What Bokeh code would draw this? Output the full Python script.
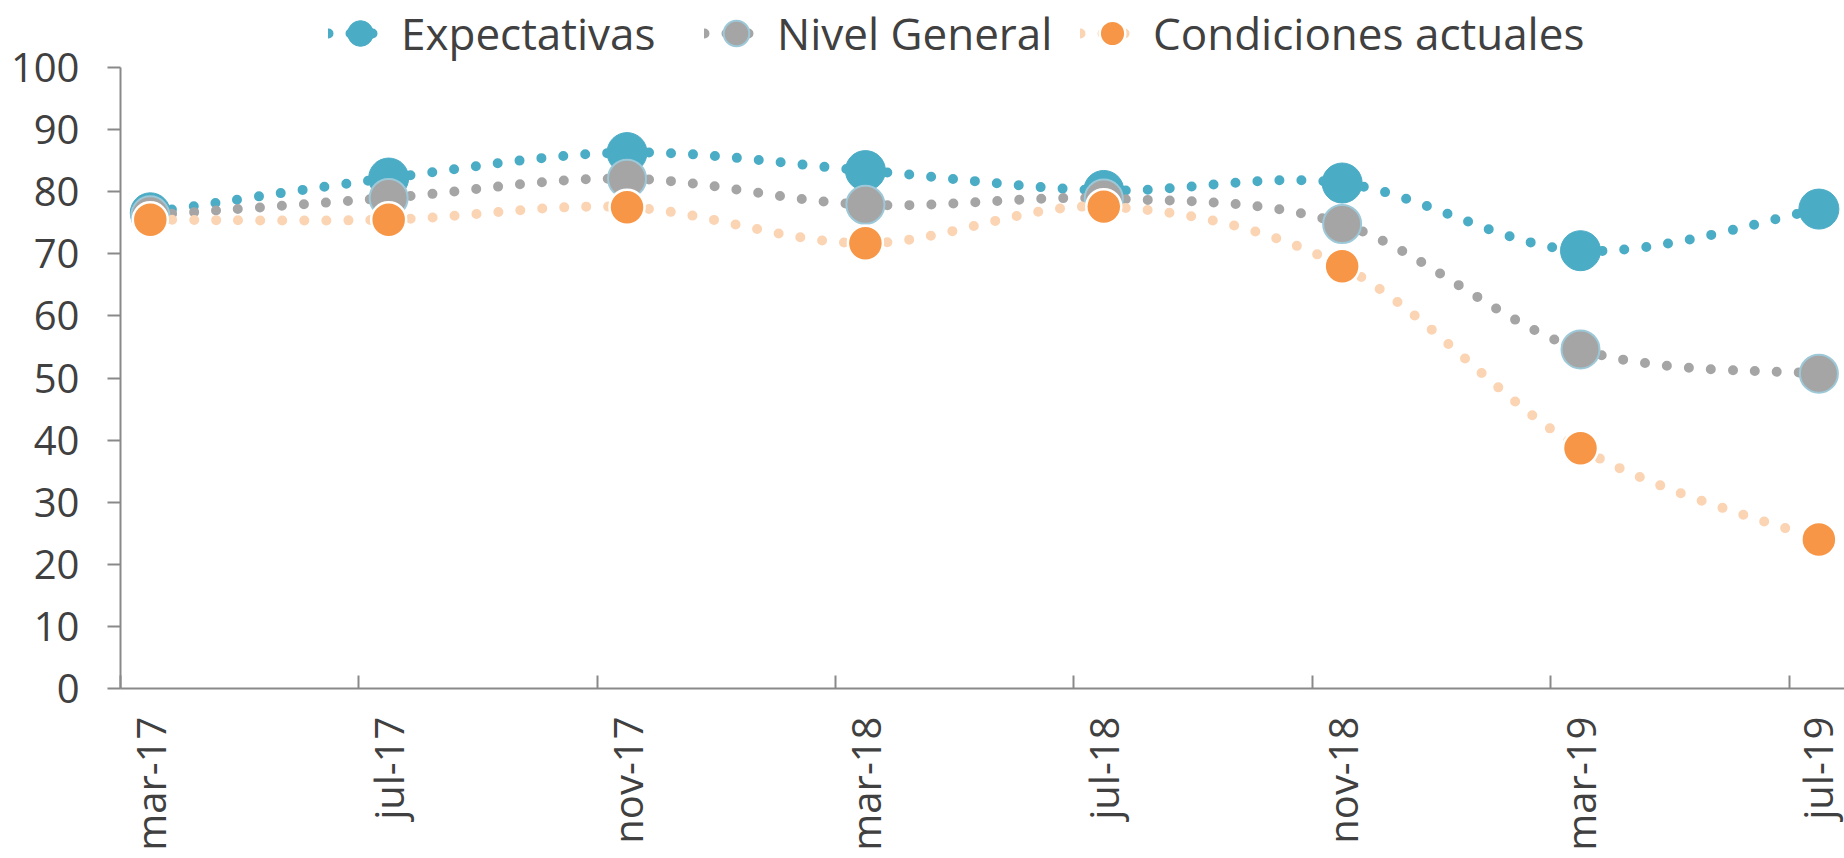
import numpy as np
from bokeh.plotting import figure
from bokeh.models import Range1d, FixedTicker, Legend, LegendItem, ColumnDataSource
from bokeh.embed import file_html
from bokeh.resources import INLINE

# ---- data ----
categories = ["mar-17", "jul-17", "nov-17", "mar-18", "jul-18", "nov-18", "mar-19", "jul-19"]
expectativas = [76.6, 82.2, 86.3, 83.4, 80.2, 81.4, 70.5, 77.2]
nivel_general = [76.2, 79.0, 82.1, 77.9, 78.9, 74.8, 54.6, 50.7]
condiciones_actuales = [75.5, 75.5, 77.5, 71.7, 77.6, 68.0, 38.7, 24.0]
y_ticks = [0, 10, 20, 30, 40, 50, 60, 70, 80, 90, 100]
series_names = ["Expectativas", "Nivel General", "Condiciones actuales"]

# ---- layout helpers (months on a numeric axis, points at mid-month) ----
MONTHS_PER_CAT = 4
tick_pos = [i * MONTHS_PER_CAT for i in range(len(categories))]
x_pos = [t + 0.5 for t in tick_pos]

FONT = "Open Sans"
TXT = "#404040"
AXC = "#898989"

# frame reaches the top of the figure so the legend can sit inside it;
# the y axis itself is bounded to 0..100
p = figure(width=1844, height=858, output_backend="svg", toolbar_location=None,
           x_range=Range1d(0, 28.93), y_range=Range1d(0, 110.79),
           min_border_left=120, min_border_right=0, min_border_top=0, min_border_bottom=170)
p.outline_line_color = None
p.xgrid.visible = False
p.ygrid.visible = False
p.background_fill_color = "white"
p.border_fill_color = "white"


def bezier_source(xs, ys, t=1.0 / 6.0):
    xs = np.asarray(xs, float)
    ys = np.asarray(ys, float)
    n = len(xs)
    xp = np.concatenate([[xs[0]], xs, [xs[-1]]])
    yp = np.concatenate([[ys[0]], ys, [ys[-1]]])
    return ColumnDataSource(dict(
        x0=xs[:-1], y0=ys[:-1], x1=xs[1:], y1=ys[1:],
        cx0=xp[1:n] + (xp[2:n + 1] - xp[0:n - 1]) * t,
        cy0=yp[1:n] + (yp[2:n + 1] - yp[0:n - 1]) * t,
        cx1=xp[2:n + 1] - (xp[3:n + 2] - xp[1:n]) * t,
        cy1=yp[2:n + 1] - (yp[3:n + 2] - yp[1:n]) * t,
    ))


styles = [
    dict(vals=expectativas, line="#4BACC6", fill="#4BACC6", edge="#4BACC6", size=40, ew=1),
    dict(vals=nivel_general, line="#A5A5A5", fill="#A5A5A5", edge="#9CC8D8", size=38, ew=2),
    dict(vals=condiciones_actuales, line="#FBD4B4", fill="#F79646", edge="white", size=35, ew=2.5),
]

items = []
for name, st in zip(series_names, styles):
    b = p.bezier(x0="x0", y0="y0", x1="x1", y1="y1", cx0="cx0", cy0="cy0", cx1="cx1", cy1="cy1",
                 source=bezier_source(x_pos, st["vals"]), line_color=st["line"], line_width=10,
                 line_dash="0 22", line_cap="round")
    s = p.scatter(x_pos, st["vals"], size=st["size"], fill_color=st["fill"],
                  line_color=st["edge"], line_width=st["ew"])
    items.append(LegendItem(label=name, renderers=[b, s]))

legend = Legend(items=items, orientation="horizontal", location=(208, 622),
                glyph_width=64, glyph_height=66, label_standoff=9, label_width=303, spacing=0,
                padding=0, margin=0, background_fill_alpha=0, border_line_alpha=0,
                label_text_font=FONT, label_text_font_size="44px", label_text_color=TXT)
p.add_layout(legend, "center")

# x axis
xa = p.xaxis[0]
xa.ticker = FixedTicker(ticks=x_pos, minor_ticks=tick_pos)
xa.major_label_overrides = {float(x): c for x, c in zip(x_pos, categories)}
xa.major_label_orientation = np.pi / 2
xa.major_tick_line_color = None
xa.major_tick_out = 0
xa.major_tick_in = 0
xa.minor_tick_in = 13
xa.minor_tick_out = 0
xa.minor_tick_line_color = AXC
xa.minor_tick_line_width = 2
xa.axis_line_color = AXC
xa.axis_line_width = 2
xa.major_label_standoff = 28
xa.major_label_text_font = FONT
xa.major_label_text_font_size = "40px"
xa.major_label_text_color = TXT

# y axis
ya = p.yaxis[0]
ya.bounds = (y_ticks[0], y_ticks[-1])
ya.ticker = FixedTicker(ticks=y_ticks)
ya.major_tick_out = 13
ya.major_tick_in = 0
ya.minor_tick_line_color = None
ya.major_tick_line_color = AXC
ya.major_tick_line_width = 2
ya.axis_line_color = AXC
ya.axis_line_width = 2
ya.major_label_standoff = 28
ya.major_label_text_font = FONT
ya.major_label_text_font_size = "40px"
ya.major_label_text_color = TXT

open("out.html", "w").write(file_html(p, INLINE))
